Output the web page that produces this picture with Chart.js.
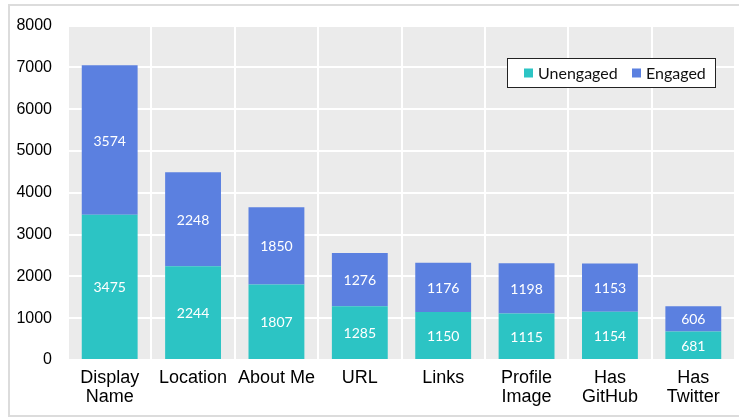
<!DOCTYPE html>
<html><head><meta charset="utf-8">
<script src="https://cdn.jsdelivr.net/npm/chart.js@4/dist/chart.umd.min.js"></script>
<style>html,body{margin:0;padding:0;background:#fff}#wrap{width:739px;height:418px}</style>
</head><body><div id="wrap"><canvas id="c" width="739" height="418"></canvas></div>
<script>
const categories = [['Display','Name'],'Location','About Me','URL','Links',['Profile','Image'],['Has','GitHub'],['Has','Twitter']];
const unengaged = [3475, 2244, 1807, 1285, 1150, 1115, 1154, 681];
const engaged = [3574, 2248, 1850, 1276, 1176, 1198, 1153, 606];
const yTicks = [0,1000,2000,3000,4000,5000,6000,7000,8000];
const seriesNames = ['Unengaged','Engaged'];
const colors = ['#2cc4c4','#5b80e0'];

const framePlugin = {
  id:'frame',
  beforeDraw(chart){
    const {ctx, chartArea:a} = chart;
    ctx.save();
    ctx.fillStyle='#fff'; ctx.fillRect(0,0,chart.width,chart.height);
    ctx.strokeStyle='#dcdcdc'; ctx.lineWidth=2;
    ctx.strokeRect(9,5,740,411);
    ctx.fillStyle='#ebebeb';
    ctx.fillRect(a.left,a.top,a.right-a.left,a.bottom-a.top);
    ctx.restore();
  },
  afterDatasetsDraw(chart){
    const ctx=chart.ctx;
    ctx.save();
    ctx.fillStyle='#fff';
    ctx.font='14px Lato';
    ctx.textAlign='center'; ctx.textBaseline='middle';
    chart.data.datasets.forEach((ds,i)=>{
      chart.getDatasetMeta(i).data.forEach((el,j)=>{
        const p=el.getProps(['x','y','base'],true);
        ctx.fillText(String(ds.data[j]), p.x, (p.y+p.base)/2+1);
      });
    });
    // legend
    const lx=507.5, ly=58.5, lw=208, lh=29;
    ctx.fillStyle='#fff'; ctx.fillRect(lx,ly,lw,lh);
    ctx.strokeStyle='#222'; ctx.lineWidth=1; ctx.strokeRect(lx,ly,lw,lh);
    ctx.font='16px Lato'; ctx.textAlign='left'; ctx.textBaseline='middle';
    const items=[{x:524,tx:538},{x:632,tx:646}];
    chart.data.datasets.forEach((ds,i)=>{
      ctx.fillStyle=ds.backgroundColor;
      ctx.fillRect(items[i].x, ly+10, 9, 9);
      ctx.fillStyle='#111';
      ctx.fillText(ds.label, items[i].tx, ly+lh/2+1);
    });
    ctx.restore();
  }
};

new Chart(document.getElementById('c'),{
  type:'bar',
  data:{labels:categories,datasets:[
    {label:seriesNames[0],data:unengaged,backgroundColor:colors[0]},
    {label:seriesNames[1],data:engaged,backgroundColor:colors[1]}
  ]},
  options:{
    responsive:false,animation:false,devicePixelRatio:1,
    layout:{padding:{left:0,top:24,right:4,bottom:0}},
    datasets:{bar:{categoryPercentage:1,barPercentage:0.67,borderWidth:0}},
    plugins:{legend:{display:false},tooltip:{enabled:false}},
    scales:{
      x:{stacked:true,
        grid:{color:'#fff',lineWidth:2,drawTicks:false,offset:true},
        border:{display:false},
        ticks:{color:'#000',font:{family:'Liberation Sans',size:18,lineHeight:1.05},padding:9,maxRotation:0,autoSkip:false},
        afterFit(s){s.height=58;}
      },
      y:{stacked:true,min:0,max:8000,
        afterBuildTicks(s){s.ticks=yTicks.map(v=>({value:v}));},
        grid:{color:'#fff',lineWidth:2,drawTicks:false},
        border:{display:false},
        ticks:{color:'#000',font:{family:'Liberation Sans',size:16},padding:16,callback:v=>String(v)},
        afterFit(s){s.width=68;}
      }
    }
  },
  plugins:[framePlugin]
});
</script></body></html>
